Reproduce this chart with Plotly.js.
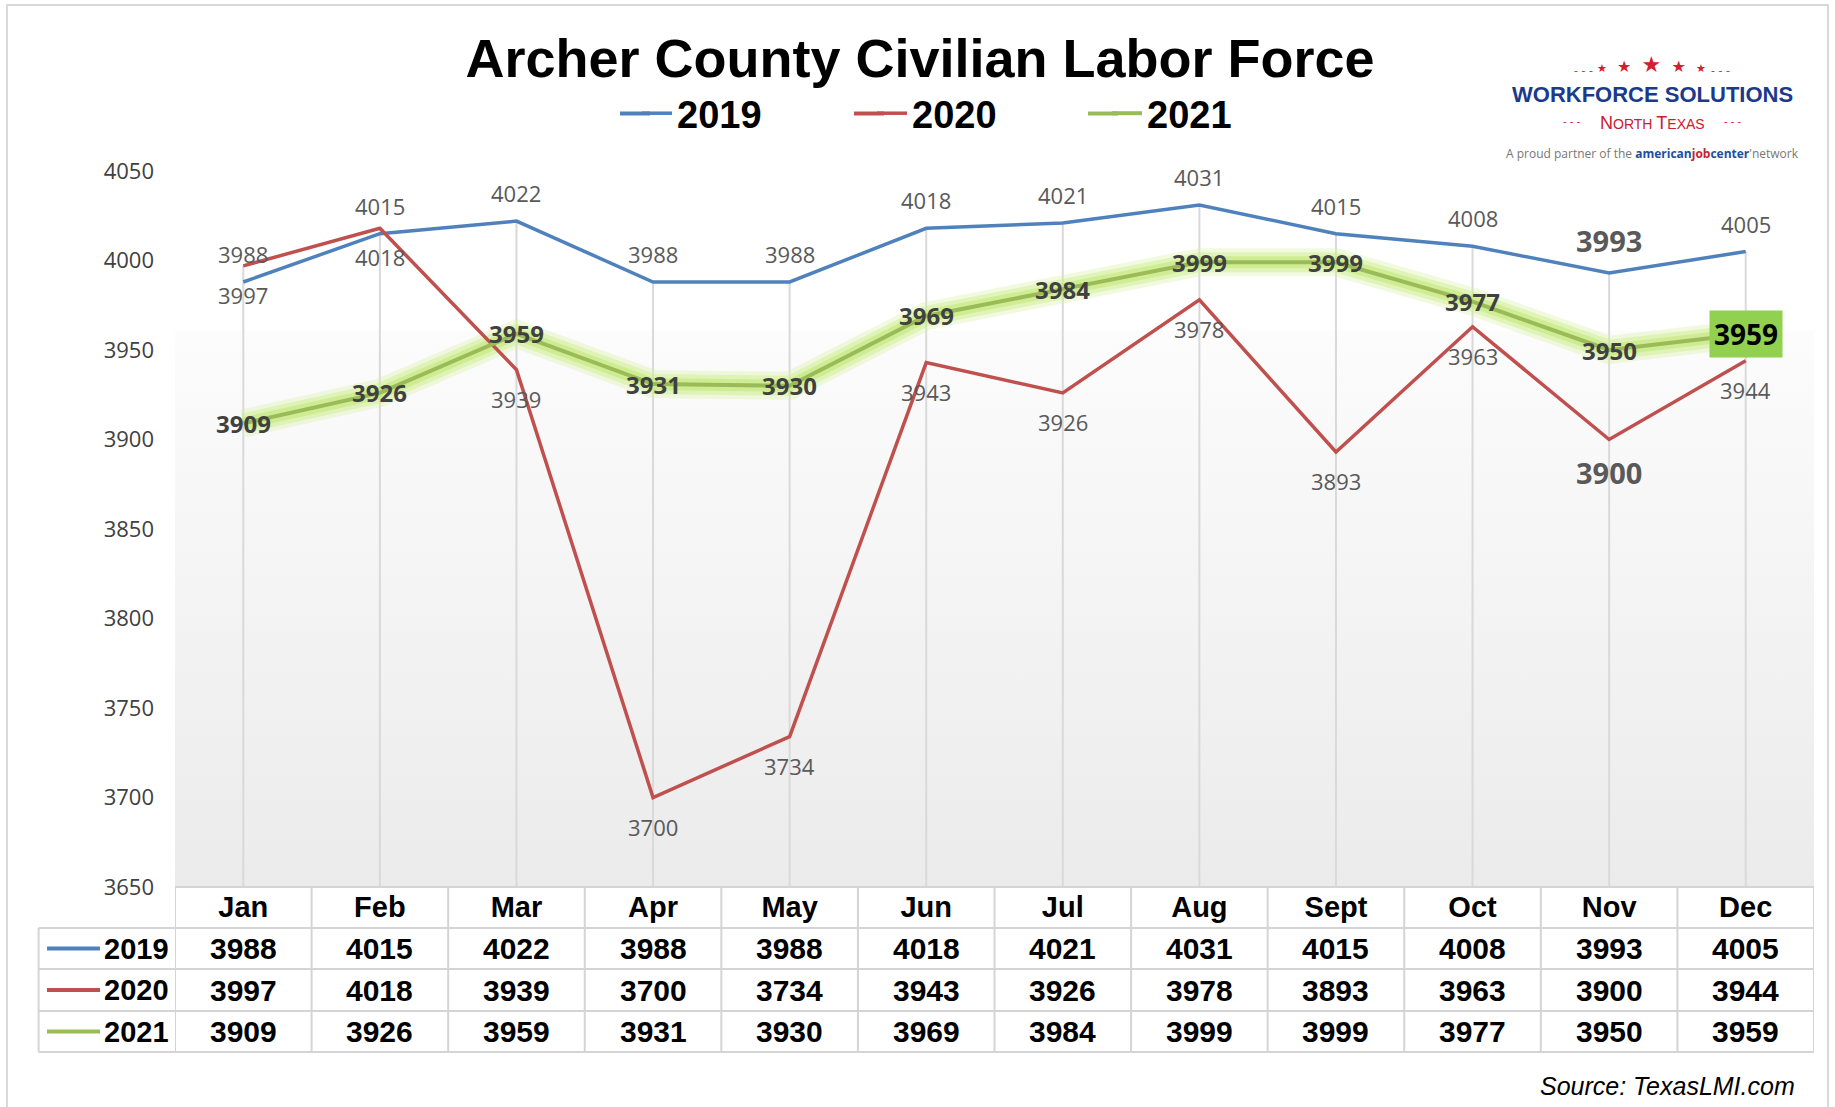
<!DOCTYPE html>
<html><head><meta charset="utf-8">
<script src="https://cdn.plot.ly/plotly-3.0.1.min.js"></script>
<style>html,body{margin:0;padding:0;background:#fff}#chart{width:1835px;height:1107px}</style>
</head><body><div id="chart"></div>
<script>
// ---- data ----
const months = ['Jan','Feb','Mar','Apr','May','Jun','Jul','Aug','Sept','Oct','Nov','Dec'];
const seriesNames = ['2019','2020','2021'];
const values2019 = [3988,4015,4022,3988,3988,4018,4021,4031,4015,4008,3993,4005];
const values2020 = [3997,4018,3939,3700,3734,3943,3926,3978,3893,3963,3900,3944];
const values2021 = [3909,3926,3959,3931,3930,3969,3984,3999,3999,3977,3950,3959];
const yTicks = [3650,3700,3750,3800,3850,3900,3950,4000,4050];
const titleText = 'Archer County Civilian Labor Force';
const sourceText = 'Source: TexasLMI.com';

// ---- layout helpers ----
const W=1835,H=1107, M={l:175,r:21,t:171,b:220};
const PW=W-M.l-M.r, PH=H-M.t-M.b;
const px = v => (v-M.l)/PW;
const py = v => (M.t+PH-v)/PH;
const colors = {'2019':'#4F81BD','2020':'#C0504D','2021':'#9BBB59'};
const seriesValues = {'2019':values2019,'2020':values2020,'2021':values2021};
const emphasisMonth = 'Nov', boxedMonth = 'Dec';
const labelFont = 'Open Sans, DejaVu Sans, sans-serif';
const tableFont = 'Liberation Sans, Arial, sans-serif';

const traces = [
  {x:months,y:values2021,mode:'lines',line:{color:'rgba(215,242,160,0.35)',width:28},showlegend:false,hoverinfo:'skip'},
  {x:months,y:values2021,mode:'lines',line:{color:'rgba(205,238,140,0.45)',width:20},showlegend:false,hoverinfo:'skip'},
  {x:months,y:values2021,mode:'lines',line:{color:'rgba(190,230,110,0.5)',width:12},showlegend:false,hoverinfo:'skip'},
];
seriesNames.forEach(s=>{
  traces.push({x:months,y:seriesValues[s],name:s,mode:'lines',line:{color:colors[s],width:s==='2021'?4:3.5}});
});

const annotations = [];
// data labels
months.forEach((m,i)=>{
  const big = m===emphasisMonth;
  annotations.push({x:m,y:values2019[i],xref:'x',yref:'y',showarrow:false,yshift:big?33:28,text:String(values2019[i]),
    font:{family:labelFont,size:big?29:22,color:'#595959',weight:big?'bold':'normal'}});
  annotations.push({x:m,y:values2020[i],xref:'x',yref:'y',showarrow:false,yshift:big?-33:-29,text:String(values2020[i]),
    font:{family:labelFont,size:big?29:22,color:'#595959',weight:big?'bold':'normal'}});
  if(m===boxedMonth){
    annotations.push({x:m,y:values2021[i],xref:'x',yref:'y',showarrow:false,text:String(values2021[i]),bgcolor:'#92D050',borderpad:4,
      font:{family:labelFont,size:28,color:'#000',weight:'bold'}});
  } else {
    annotations.push({x:m,y:values2021[i],xref:'x',yref:'y',showarrow:false,text:String(values2021[i]),
      font:{family:labelFont,size:24,color:'#404040',weight:'bold'}});
  }
});
// table
const rowCenters = [948.5, 990, 1031.5];
seriesNames.forEach((s,r)=>{
  annotations.push({xref:'paper',yref:'paper',x:px(102),y:py(rowCenters[r]),xanchor:'left',yanchor:'middle',showarrow:false,
    text:s,font:{family:tableFont,size:29,weight:'bold',color:'#000'}});
  months.forEach((m,i)=>{
    annotations.push({xref:'x',yref:'paper',x:m,y:py(rowCenters[r]),yanchor:'middle',showarrow:false,
      text:String(seriesValues[s][i]),font:{family:tableFont,size:30,weight:'bold',color:'#000'}});
  });
});
// source
annotations.push({xref:'paper',yref:'paper',x:px(1797),y:py(1086),xanchor:'right',yanchor:'middle',showarrow:false,
  text:'<i>'+sourceText+'</i>',font:{family:tableFont,size:25,color:'#000'}});
// logo
annotations.push({xref:'paper',yref:'paper',x:px(1651),y:py(64),xanchor:'center',yanchor:'middle',showarrow:false,
  text:"<span style='font-size:11px'>★</span>  ★  <span style='font-size:22px'>★</span>  ★  <span style='font-size:11px'>★</span>",
  font:{family:'DejaVu Sans, sans-serif',size:16,color:'#D0202E'}});
annotations.push({xref:'paper',yref:'paper',x:px(1583),y:py(70),xanchor:'center',yanchor:'middle',showarrow:false,
  text:'- - -',font:{family:'DejaVu Sans',size:11,color:'#D0202E'}});
annotations.push({xref:'paper',yref:'paper',x:px(1720),y:py(70),xanchor:'center',yanchor:'middle',showarrow:false,
  text:'- - -',font:{family:'DejaVu Sans',size:11,color:'#D0202E'}});
annotations.push({xref:'paper',yref:'paper',x:px(1652),y:py(95),xanchor:'center',yanchor:'middle',showarrow:false,
  text:'WORKFORCE SOLUTIONS',font:{family:'Liberation Sans Narrow, Arial Narrow, Liberation Sans, sans-serif',size:22,weight:'bold',color:'#1B3A8C'}});
annotations.push({xref:'paper',yref:'paper',x:px(1652),y:py(123),xanchor:'center',yanchor:'middle',showarrow:false,
  text:"<span style='font-size:18px'>N</span>ORTH <span style='font-size:18px'>T</span>EXAS",
  font:{family:'Liberation Sans, sans-serif',size:14,color:'#C8202E'}});
annotations.push({xref:'paper',yref:'paper',x:px(1572),y:py(121),xanchor:'center',yanchor:'middle',showarrow:false,
  text:'- - -',font:{family:'DejaVu Sans',size:10,color:'#D0202E'}});
annotations.push({xref:'paper',yref:'paper',x:px(1733),y:py(121),xanchor:'center',yanchor:'middle',showarrow:false,
  text:'- - -',font:{family:'DejaVu Sans',size:10,color:'#D0202E'}});
annotations.push({xref:'paper',yref:'paper',x:px(1652),y:py(153),xanchor:'center',yanchor:'middle',showarrow:false,
  text:"A proud partner of the <b><span style='color:#1F4E9C'>american</span><span style='color:#C8202E'>job</span><span style='color:#1F4E9C'>center</span></b>'network",
  font:{family:'Open Sans, sans-serif',size:12,color:'#777'}});

// shapes
const grid = '#d4d4d4';
const shapes = [];
shapes.push({type:'rect',xref:'paper',yref:'paper',x0:px(7),x1:px(1828),y0:py(1112),y1:py(5),line:{color:'#d9d9d9',width:2},fillcolor:'rgba(0,0,0,0)'});
months.forEach((m,i)=>{
  const top = Math.max(values2019[i],values2020[i],values2021[i]);
  shapes.push({type:'line',xref:'x',yref:'y',x0:i,x1:i,y0:yTicks[0],y1:top,line:{color:'#d9d9d9',width:2},layer:'below'});
});
shapes.push({type:'line',xref:'paper',yref:'paper',x0:0,x1:1,y0:py(887),y1:py(887),line:{color:grid,width:2}});
[928,969,1011,1052].forEach(yv=>{
  shapes.push({type:'line',xref:'paper',yref:'paper',x0:px(38.6),x1:1,y0:py(yv),y1:py(yv),line:{color:grid,width:2}});
});
for(let i=0;i<=months.length;i++){
  shapes.push({type:'line',xref:'x',yref:'paper',x0:i-0.5,x1:i-0.5,y0:py(887),y1:py(1052),line:{color:grid,width:2}});
}
shapes.push({type:'line',xref:'paper',yref:'paper',x0:px(38.6),x1:px(38.6),y0:py(928),y1:py(1052),line:{color:grid,width:2}});
seriesNames.forEach((s,r)=>{
  shapes.push({type:'line',xref:'paper',yref:'paper',x0:px(47),x1:px(100),y0:py(rowCenters[r]),y1:py(rowCenters[r]),line:{color:colors[s],width:4}});
});
// longer legend keys (the reference's legend lines are longer than Plotly's)
const legendKeyStarts = [620, 854, 1088];
seriesNames.forEach((s,r)=>{
  shapes.push({type:'line',xref:'paper',yref:'paper',x0:px(legendKeyStarts[r]),x1:px(legendKeyStarts[r]+30),y0:py(113.5),y1:py(113.5),line:{color:colors[s],width:4}});
});

const svg = "<svg xmlns='http://www.w3.org/2000/svg' width='100' height='100' preserveAspectRatio='none'><defs><linearGradient id='g' x1='0' y1='0' x2='0' y2='1'><stop offset='0' stop-color='#fcfcfc'/><stop offset='1' stop-color='#ebebeb'/></linearGradient></defs><rect width='100' height='100' fill='url(#g)'/></svg>";

const layout = {
  width:W,height:H,margin:M,
  paper_bgcolor:'#ffffff',plot_bgcolor:'rgba(0,0,0,0)',
  title:{text:titleText,font:{family:'Liberation Sans, Arial, sans-serif',size:54,weight:'bold',color:'#000'},
    xref:'container',x:920/W,xanchor:'center',yref:'container',y:1-58/H,yanchor:'middle'},
  legend:{orientation:'h',xref:'container',yref:'container',x:637/W,y:1-113.5/H,xanchor:'left',yanchor:'middle',
    entrywidth:190,entrywidthmode:'pixels',bgcolor:'rgba(0,0,0,0)',
    font:{family:tableFont,size:38,weight:'bold',color:'#000'}},
  xaxis:{type:'category',range:[-0.5,11.5],showgrid:false,zeroline:false,showline:false,ticks:'',
    tickfont:{family:tableFont,size:29,weight:'bold',color:'#000'},ticklabelstandoff:0,fixedrange:true},
  yaxis:{range:[3650,4050],tickvals:yTicks,showgrid:false,zeroline:false,showline:false,ticks:'',
    tickfont:{family:labelFont,size:22,color:'#404040'},ticklabelstandoff:20,fixedrange:true},
  annotations:annotations,shapes:shapes,
  images:[{source:'data:image/svg+xml;charset=utf-8,'+encodeURIComponent(svg),xref:'paper',yref:'paper',
    x:0,y:py(331),sizex:1,sizey:py(331),xanchor:'left',yanchor:'top',sizing:'stretch',layer:'below'}],
  showlegend:true
};
Plotly.newPlot('chart',traces,layout,{displayModeBar:false,staticPlot:true});
</script></body></html>
